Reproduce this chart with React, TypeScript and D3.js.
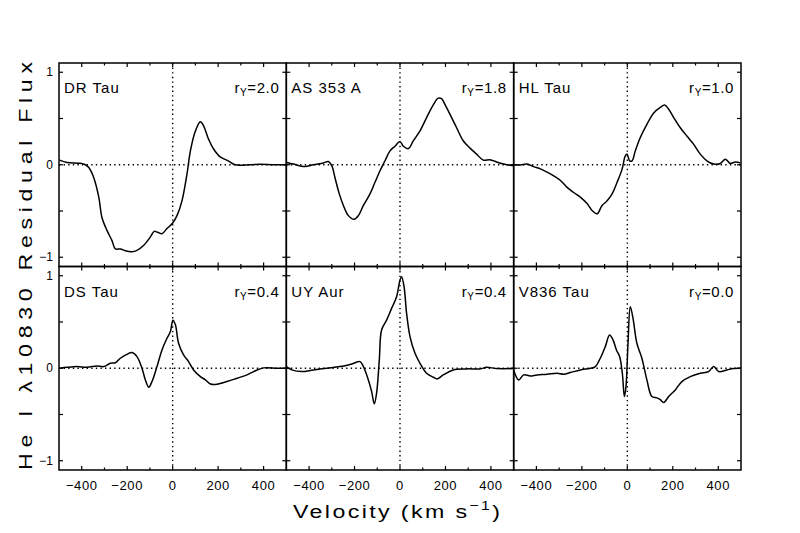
import React from "react";
import * as d3 from "d3";

// velocity (km/s), residual flux pairs
const drTau: [number, number][] = [
  [-497, 0.05], [-465, 0.025], [-406, 0.015], [-384, 0], [-369, -0.03], [-347, -0.14],
  [-325, -0.35], [-311, -0.57], [-289, -0.71], [-267, -0.82], [-252, -0.91], [-230, -0.91],
  [-208, -0.93], [-179, -0.94], [-157, -0.925], [-127, -0.87], [-98, -0.78], [-81, -0.72],
  [-66, -0.73], [-47, -0.745], [-25, -0.69], [0, -0.63], [19, -0.55], [41, -0.39],
  [63, -0.1], [78, 0.15], [100, 0.365], [122, 0.465], [136, 0.42], [158, 0.275],
  [180, 0.17], [209, 0.085], [246, 0.04], [275, 0], [341, 0], [385, 0.005], [444, 0], [500, 0],
];

const as353A: [number, number][] = [
  [-498, 0.025], [-469, 0.007], [-418, -0.02], [-381, 0], [-337, 0.02], [-315, 0.035],
  [-300, -0.01], [-286, -0.14], [-267, -0.315], [-249, -0.44], [-227, -0.55], [-202, -0.59],
  [-183, -0.55], [-161, -0.44], [-132, -0.315], [-110, -0.19], [-88, -0.065], [-66, 0.043],
  [-44, 0.15], [-22, 0.2], [0, 0.25], [15, 0.2], [37, 0.175], [59, 0.26], [88, 0.365],
  [117, 0.51], [147, 0.65], [168, 0.72], [183, 0.715], [198, 0.65], [220, 0.545],
  [249, 0.4], [278, 0.26], [308, 0.18], [337, 0.115], [366, 0.05], [396, 0.055],
  [425, 0.03], [469, 0], [498, -0.01],
];

const hlTau: [number, number][] = [
  [-500, 0], [-470, -0.003], [-441, 0.007], [-412, -0.02], [-382, -0.045], [-353, -0.08],
  [-324, -0.12], [-294, -0.17], [-265, -0.245], [-236, -0.3], [-207, -0.35], [-177, -0.42],
  [-155, -0.495], [-133, -0.53], [-111, -0.44], [-89, -0.39], [-67, -0.315], [-45, -0.19],
  [-23, -0.047], [-9, 0.097], [-1, 0.115], [10, 0.043], [21, 0.043], [35, 0.15],
  [57, 0.295], [86, 0.437], [116, 0.56], [145, 0.62], [164, 0.645], [182, 0.6],
  [204, 0.51], [233, 0.4], [262, 0.31], [292, 0.22], [321, 0.115], [350, 0.043],
  [380, 0.007], [409, 0.014], [431, 0.06], [453, 0.014], [475, 0.03], [497, 0.02],
];

const dsTau: [number, number][] = [
  [-497, 0], [-464, 0.01], [-421, 0.018], [-377, 0.01], [-333, 0.025], [-303, 0.018],
  [-274, 0.054], [-252, 0.06], [-230, 0.108], [-201, 0.15], [-179, 0.17], [-157, 0.126],
  [-135, 0], [-120, -0.126], [-105, -0.205], [-91, -0.144], [-69, 0.018], [-47, 0.198],
  [-25, 0.324], [-10, 0.396], [1, 0.52], [12, 0.47], [26, 0.27], [48, 0.144], [70, 0.072],
  [92, -0.018], [122, -0.09], [144, -0.126], [166, -0.17], [195, -0.173], [239, -0.144],
  [283, -0.108], [327, -0.072], [356, -0.036], [400, 0.004], [459, 0], [500, 0],
];

const uyAur: [number, number][] = [
  [-500, 0.018], [-476, -0.018], [-432, -0.036], [-381, -0.018], [-322, 0], [-264, 0.018],
  [-212, 0.047], [-176, 0.072], [-161, 0.018], [-144, -0.09], [-125, -0.25], [-113, -0.385],
  [-103, -0.27], [-91, 0.09], [-81, 0.414], [-59, 0.52], [-37, 0.647], [-15, 0.773],
  [0, 0.953], [7, 0.99], [18, 0.88], [29, 0.594], [44, 0.342], [66, 0.162], [88, 0.054],
  [117, -0.054], [147, -0.097], [164, -0.115], [190, -0.072], [234, -0.018], [293, -0.007],
  [352, -0.007], [381, 0.01], [425, -0.003], [498, -0.003],
];

const v836Tau: [number, number][] = [
  [-500, -0.018], [-478, -0.126], [-456, -0.072], [-427, -0.083], [-397, -0.072],
  [-353, -0.065], [-309, -0.054], [-280, -0.065], [-251, -0.047], [-207, -0.018],
  [-163, 0], [-141, 0.018], [-119, 0.108], [-97, 0.234], [-78, 0.36], [-63, 0.306],
  [-48, 0.198], [-34, 0.126], [-22, -0.054], [-13, -0.306], [-6, -0.198], [3, 0.27],
  [13, 0.665], [25, 0.54], [42, 0.27], [64, 0.108], [86, -0.126], [108, -0.306],
  [130, -0.32], [145, -0.34], [160, -0.37], [182, -0.306], [211, -0.234], [240, -0.144],
  [277, -0.09], [321, -0.054], [357, -0.036], [380, 0.018], [402, -0.036], [438, -0.018],
  [467, -0.003], [498, 0],
];

const starNames = ["DR Tau", "AS 353 A", "HL Tau", "DS Tau", "UY Aur", "V836 Tau"];
const rYValues = ["2.0", "1.8", "1.0", "0.4", "0.4", "0.0"];
const series = [drTau, as353A, hlTau, dsTau, uyAur, v836Tau];

const xTicks = [-400, -300, -200, -100, 0, 100, 200, 300, 400];
const xLabels = [-400, -200, 0, 200, 400];
const yTicks = [-1, -0.5, 0, 0.5, 1];
const yLabels = [-1, 0, 1];

const W = 800;
const H = 533;
const left = 59;
const right = 741;
const top = 63;
const bottom = 470;
const cols = 3;
const rows = 2;
const pw = (right - left) / cols;
const ph = (bottom - top) / rows;
const font = "'Liberation Sans', Arial, Helvetica, sans-serif";
const stretch = 1.22; // the original titles use a wide stroke font

const fmt = (v: number) => (v < 0 ? "\u2212" + Math.abs(v) : String(v));

const Panel: React.FC<{ i: number }> = ({ i }) => {
  const col = i % cols;
  const row = Math.floor(i / cols);
  const x0 = left + col * pw;
  const y0 = top + row * ph;
  const x = d3.scaleLinear().domain([-500, 500]).range([x0, x0 + pw]);
  const y = d3.scaleLinear().domain([-1.1, 1.1]).range([y0 + ph, y0]);
  const line = d3
    .line<[number, number]>()
    .x((d) => x(d[0]))
    .y((d) => y(d[1]))
    .curve(d3.curveCatmullRom.alpha(0.5));

  return (
    <g>
      <line x1={x0} x2={x0 + pw} y1={y(0)} y2={y(0)} stroke="#000" strokeWidth={1.4}
        strokeDasharray="1.4 3.2" />
      <line x1={x(0)} x2={x(0)} y1={y0} y2={y0 + ph} stroke="#000" strokeWidth={1.4}
        strokeDasharray="1.4 3.2" />
      <path d={line(series[i]) ?? ""} fill="none" stroke="#000" strokeWidth={1.5}
        strokeLinejoin="round" />
      {xTicks.map((t) => {
        const len = t % 200 === 0 ? 4 : 2.5;
        return (
          <g key={"x" + t}>
            <line x1={x(t)} x2={x(t)} y1={y0 + ph} y2={y0 + ph - len} stroke="#000" strokeWidth={1.2} />
            <line x1={x(t)} x2={x(t)} y1={y0} y2={y0 + len} stroke="#000" strokeWidth={1.2} />
          </g>
        );
      })}
      {yTicks.map((t) => (
        <g key={"y" + t}>
          <line x1={x0} x2={x0 + 4} y1={y(t)} y2={y(t)} stroke="#000" strokeWidth={1.2} />
          <line x1={x0 + pw} x2={x0 + pw - 4} y1={y(t)} y2={y(t)} stroke="#000" strokeWidth={1.2} />
        </g>
      ))}
      <rect x={x0} y={y0} width={pw} height={ph} fill="none" stroke="#000" strokeWidth={1.5} />
      {col === 0 &&
        yLabels.map((t) => (
          <text key={"yl" + t} x={x0 - 6} y={y(t)} dy="0.35em" textAnchor="end" fontSize={12}
            fontFamily={font}>
            {fmt(t)}
          </text>
        ))}
      {row === rows - 1 &&
        xLabels.map((t) => (
          <text key={"xl" + t} x={x(t)} y={y0 + ph + 20} textAnchor="middle" fontSize={13}
            fontFamily={font} letterSpacing={0.6}>
            {fmt(t)}
          </text>
        ))}
      <text x={x0 + 5} y={y0 + 30} fontSize={15} fontFamily={font} letterSpacing={1}>
        {starNames[i]}
      </text>
      <text x={x0 + pw - 7} y={y0 + 30} fontSize={15} fontFamily={font} textAnchor="end"
        letterSpacing={0.6}>
        <tspan>r</tspan>
        <tspan fontSize={10} dy={3}>Y</tspan>
        <tspan dy={-3}>={rYValues[i]}</tspan>
      </text>
    </g>
  );
};

const App: React.FC = () => (
  <svg width={W} height={H} style={{ position: "absolute", left: 0, top: 0, background: "#fff" }}>
    {series.map((_, i) => (
      <Panel key={i} i={i} />
    ))}
    <text transform={`translate(293,518) scale(${stretch},1)`} fontSize={19} fontFamily={font}
      textLength={207 / stretch} lengthAdjust="spacing">
      Velocity (km s<tspan fontSize={13} dy={-8}>{"\u22121"}</tspan>
      <tspan dy={8}>)</tspan>
    </text>
    <text transform={`translate(32,470) rotate(-90) scale(${stretch},1)`} fontSize={19}
      fontFamily={font} textLength={408 / stretch} lengthAdjust="spacing">
      He I λ10830 Residual Flux
    </text>
  </svg>
);

export default App;
